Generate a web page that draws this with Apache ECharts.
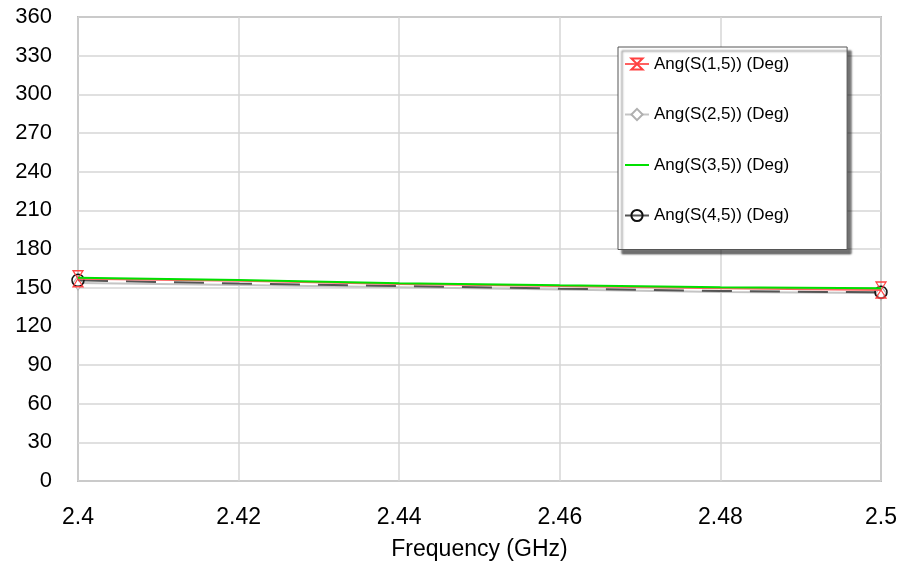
<!DOCTYPE html>
<html>
<head>
<meta charset="utf-8">
<script src="https://cdn.jsdelivr.net/npm/echarts@6/dist/echarts.min.js"></script>
<style>
  html, body { margin: 0; padding: 0; background: #fff; }
  #chart { width: 901px; height: 563px; }
</style>
</head>
<body>
<div id="chart"></div>
<script>
// frequency points (GHz)
var freq = [2.4, 2.42, 2.44, 2.46, 2.48, 2.5];
// phase values (deg)
var s15 = [157.0, 155.3, 152.8, 151.2, 149.5, 148.2];
var s25 = [153.6, 152.0, 150.3, 148.6, 146.6, 145.8];
var s35 = [157.7, 155.9, 153.4, 151.8, 150.3, 149.5];
var s45 = [155.7, 153.2, 151.3, 149.2, 147.4, 146.4];
var yTicks = [0, 30, 60, 90, 120, 150, 180, 210, 240, 270, 300, 330, 360];
var names = ["Ang(S(1,5)) (Deg)", "Ang(S(2,5)) (Deg)", "Ang(S(3,5)) (Deg)", "Ang(S(4,5)) (Deg)"];

// markers only on the end points
function pts(vals) {
  return vals.map(function (v, i) {
    var d = { value: [freq[i], v] };
    if (i !== 0 && i !== vals.length - 1) d.symbol = "none";
    return d;
  });
}

var hourglass = "path://M0,0 L10,0 L0,14 L10,14 Z";

var chart = echarts.init(document.getElementById("chart"));
chart.setOption({
  animation: false,
  textStyle: { fontFamily: "Arial, 'Liberation Sans', sans-serif" },
  grid: {
    left: 78, top: 17, right: 20, bottom: 82,
    outerBoundsMode: "none",
    containLabel: false,
    show: true, borderColor: "#8a8a8a", borderWidth: 1.5, backgroundColor: "#fff"
  },
  legend: {
    orient: "vertical",
    left: 618, top: 47,
    padding: [7, 58, 24, 6],
    itemWidth: 24, itemHeight: 14, itemGap: 30.5,
    backgroundColor: "#fff",
    borderColor: "#555", borderWidth: 1,
    shadowColor: "rgba(0,0,0,0.55)", shadowBlur: 2, shadowOffsetX: 4, shadowOffsetY: 4,
    textStyle: { fontSize: 17, color: "#000", lineHeight: 20 },
    data: [
      names[0],
      names[1],
      { name: names[2], icon: "path://M0,0 L24,0 L24,2 L0,2 Z" },
      names[3]
    ]
  },
  xAxis: {
    type: "value",
    min: 2.4, max: 2.5, interval: 0.02,
    name: "Frequency (GHz)",
    nameLocation: "middle", nameGap: 57,
    nameTextStyle: { fontSize: 23, color: "#000" },
    axisLine: { show: false },
    axisTick: { show: false },
    axisLabel: {
      fontSize: 23, color: "#000", margin: 25,
      formatter: function (v) { return String(parseFloat(v.toFixed(2))); }
    },
    splitLine: { lineStyle: { color: "#d6d6d6", width: 1.5 } }
  },
  yAxis: {
    type: "value",
    min: yTicks[0], max: yTicks[yTicks.length - 1], interval: 30,
    axisLine: { show: false },
    axisTick: { show: false },
    axisLabel: { fontSize: 22, color: "#000", margin: 26 },
    splitLine: { lineStyle: { color: "#d6d6d6", width: 1.5 } }
  },
  series: [
    {
      name: names[1], type: "line", data: pts(s25),
      symbol: "diamond", symbolSize: [10, 14],
      lineStyle: { color: "#c4c4c4", width: 2 },
      itemStyle: { color: "#fff", borderColor: "#b0b0b0", borderWidth: 1.2 },
      z: 2
    },
    {
      name: names[3], type: "line", data: pts(s45),
      symbol: "circle", symbolSize: 12,
      lineStyle: { color: "#555", width: 2, type: [30, 18] },
      itemStyle: { color: "rgba(255,255,255,0)", borderColor: "#111", borderWidth: 1.5 },
      z: 3
    },
    {
      name: names[0], type: "line", data: pts(s15),
      symbol: hourglass, symbolSize: [10, 16],
      lineStyle: { color: "#ff6060", width: 2 },
      itemStyle: { color: "rgba(255,255,255,0)", borderColor: "#ff4040", borderWidth: 1.2 },
      z: 4
    },
    {
      name: names[2], type: "line", data: pts(s35),
      symbol: "none",
      lineStyle: { color: "#00e000", width: 2 },
      itemStyle: { color: "#00e000" },
      z: 5
    }
  ]
});
</script>
</body>
</html>
